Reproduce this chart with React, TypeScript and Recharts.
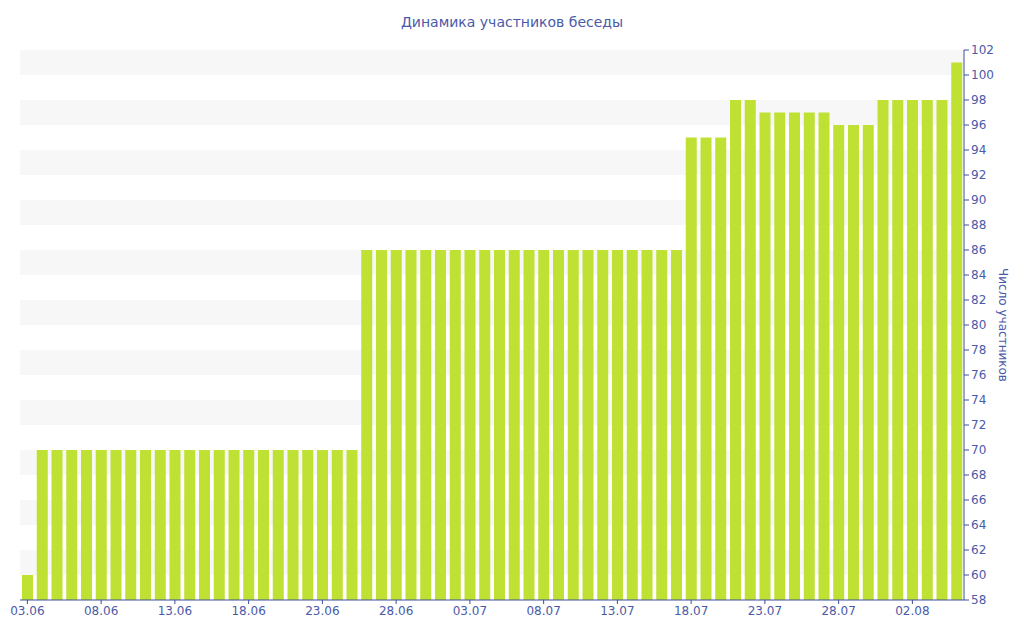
import React from 'react';
import { BarChart, Bar, XAxis, YAxis, ReferenceArea } from 'recharts';

const dates: string[] = [
  '03.06','04.06','05.06','06.06','07.06','08.06','09.06','10.06','11.06','12.06',
  '13.06','14.06','15.06','16.06','17.06','18.06','19.06','20.06','21.06','22.06',
  '23.06','24.06','25.06','26.06','27.06','28.06','29.06','30.06','01.07','02.07',
  '03.07','04.07','05.07','06.07','07.07','08.07','09.07','10.07','11.07','12.07',
  '13.07','14.07','15.07','16.07','17.07','18.07','19.07','20.07','21.07','22.07',
  '23.07','24.07','25.07','26.07','27.07','28.07','29.07','30.07','31.07','01.08',
  '02.08','03.08','04.08','05.08',
];
const members: number[] = [
  60,70,70,70,70,70,70,70,70,70,
  70,70,70,70,70,70,70,70,70,70,
  70,70,70,86,86,86,86,86,86,86,
  86,86,86,86,86,86,86,86,86,86,
  86,86,86,86,86,95,95,95,98,98,
  97,97,97,97,97,96,96,96,98,98,
  98,98,98,101,
];
const xTicks: string[] = ['03.06','08.06','13.06','18.06','23.06','28.06','03.07','08.07','13.07','18.07','23.07','28.07','02.08'];
const yTicks: number[] = [58,60,62,64,66,68,70,72,74,76,78,80,82,84,86,88,90,92,94,96,98,100,102];
const bands: [number, number][] = [[60,62],[64,66],[68,70],[72,74],[76,78],[80,82],[84,86],[88,90],[92,94],[96,98],[100,102]];

const data = dates.map((d, i) => ({ date: d, value: members[i] }));

const textColor = '#4a5aa8';
const font = 'DejaVu Sans, Verdana, sans-serif';

export default function App() {
  return (
    <div style={{ position: 'absolute', left: 0, top: 0, width: 1024, height: 640, background: '#fff', fontFamily: font }}>
      <BarChart
        width={1024}
        height={640}
        data={data}
        margin={{ top: 50, right: 0, left: 20, bottom: 10 }}
      >
        <text x={512} y={27} textAnchor="middle" fill={textColor} fontSize={14} fontFamily={font}>
          Динамика участников беседы
        </text>
        {bands.map(([a, b]) => (
          <ReferenceArea key={a} y1={a} y2={b} yAxisId="r" fill="#f7f7f7" fillOpacity={1} stroke="none" ifOverflow="visible" />
        ))}
        <XAxis
          dataKey="date"
          ticks={xTicks}
          interval={0}
          height={30}
          stroke="#3d4e9c"
          tickLine={{ stroke: '#3d4e9c' }}
          tickSize={4}
          tick={{ fill: textColor, fontSize: 12, fontFamily: font }}
        />
        <YAxis
          yAxisId="r"
          orientation="right"
          width={60}
          domain={[58, 102]}
          ticks={yTicks}
          interval={0}
          stroke="#3d4e9c"
          tickSize={5}
          tick={{ fill: textColor, fontSize: 12, fontFamily: font }}
          label={(props: any) => {
            const vb = props.viewBox || {};
            const x = (vb.x ?? 964) + 39;
            const y = (vb.y ?? 50) + (vb.height ?? 550) / 2;
            return (
              <text x={x} y={y} transform={`rotate(90, ${x}, ${y})`} textAnchor="middle" dominantBaseline="central" fill={textColor} fontSize={12} fontFamily={font}>
                Число участников
              </text>
            );
          }}
        />
        <Bar dataKey="value" yAxisId="r" fill="#bee133" barSize={11} isAnimationActive={false} />
      </BarChart>
    </div>
  );
}
